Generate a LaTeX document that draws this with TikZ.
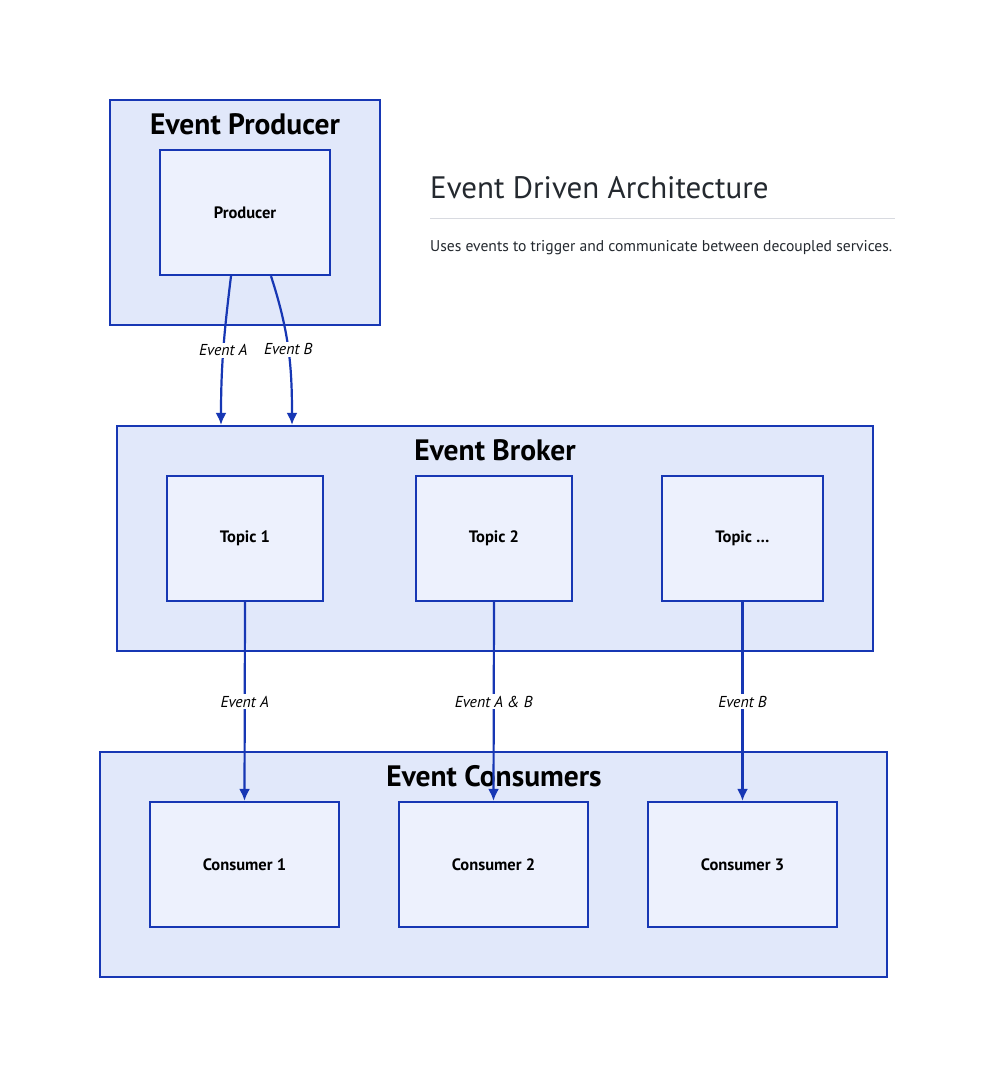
\documentclass[tikz,border=0pt]{standalone}
\usepackage{fontspec}
\setmainfont{PT Sans}
\usetikzlibrary{positioning,arrows.meta}
\definecolor{edgeblue}{HTML}{1737B4}
\definecolor{groupfill}{HTML}{E1E8FA}
\definecolor{boxfill}{HTML}{EDF1FD}
\definecolor{titlegray}{HTML}{24292F}
\definecolor{rulegray}{HTML}{D8DAE0}
\begin{document}
\begin{tikzpicture}[x=1pt,y=-1pt]
	\tikzset{group/.style = {draw=edgeblue, fill=groupfill, line width=2.2pt, inner sep=0pt}}
	\tikzset{grouptitle/.style = {font=\fontsize{29.5}{34}\selectfont\bfseries, inner sep=0pt}}
	\tikzset{service/.style = {draw=edgeblue, fill=boxfill, line width=2.2pt, inner sep=0pt, font=\fontsize{16.5}{19}\selectfont\bfseries}}
	\tikzset{edge/.style = {->, > = {Latex[length=12pt, width=11pt]}, draw=edgeblue, line width=2.2pt}}
	\tikzset{edgelabel/.style = {midway, fill=white, inner sep=1.5pt, font=\fontsize{15.8}{18}\selectfont\itshape}}
	\useasboundingbox[fill=white] (0,0) rectangle (996,1078);
	% Draw groups
	\node[group, minimum width=270, minimum height=225] (producers) at (245,212.5) {};
	\node[group, minimum width=756, minimum height=225] (broker) at (495,538.5) {};
	\node[group, minimum width=787, minimum height=225] (consumers) at (493.5,864.5) {};
	\node[grouptitle] (producerstitle) at (245,124) {Event Producer};
	\node[grouptitle] (brokertitle) at (495,450) {Event Broker};
	\node[grouptitle] (consumerstitle) at (494,776) {Event Consumers};
	% Draw services
	\node[service, minimum width=170, minimum height=125] (producer) at (245,212.5) {Producer};
	\node[service, minimum width=156, minimum height=125] (topic1) at (245,538.5) {Topic 1};
	\node[service, minimum width=156, minimum height=125] (topic2) at (494,538.5) {Topic 2};
	\node[service, minimum width=161, minimum height=125] (topicn) at (742.5,538.5) {Topic \dots};
	\node[service, minimum width=189, minimum height=125] (consumer1) at (244.5,864.5) {Consumer 1};
	\node[service, minimum width=189, minimum height=125] (consumer2) at (493.5,864.5) {Consumer 2};
	\node[service, minimum width=189, minimum height=125] (consumer3) at (742.5,864.5) {Consumer 3};
	% Draw events
	\draw[edge] ([xshift=-14pt]producer.south) to[out=-97, in=90] node[edgelabel] {Event A} ([xshift=-274pt]broker.north);
	\draw[edge] ([xshift=26pt]producer.south) to[out=-72, in=90] node[edgelabel] {Event B} ([xshift=-203pt]broker.north);
	\draw[edge] (topic1.south) to node[edgelabel] {Event A} (consumer1.north);
	\draw[edge] (topic2.south) to node[edgelabel] {Event A \& B} (consumer2.north);
	\draw[edge] (topicn.south) to node[edgelabel] {Event B} (consumer3.north);
	% Draw description
	\node[anchor=west, inner sep=0pt, text=titlegray, font=\fontsize{31}{37}\selectfont] (title) at (430,188) {Event Driven Architecture};
	\coordinate (ruleend) at (895,218);
	\draw[rulegray, line width=1pt] (430,218) -- (ruleend);
	\node[anchor=west, inner sep=0pt, text=titlegray, font=\fontsize{15.6}{18}\selectfont] (subtitle) at (430,248) {Uses events to trigger and communicate between decoupled services.};
\end{tikzpicture}
\end{document}
